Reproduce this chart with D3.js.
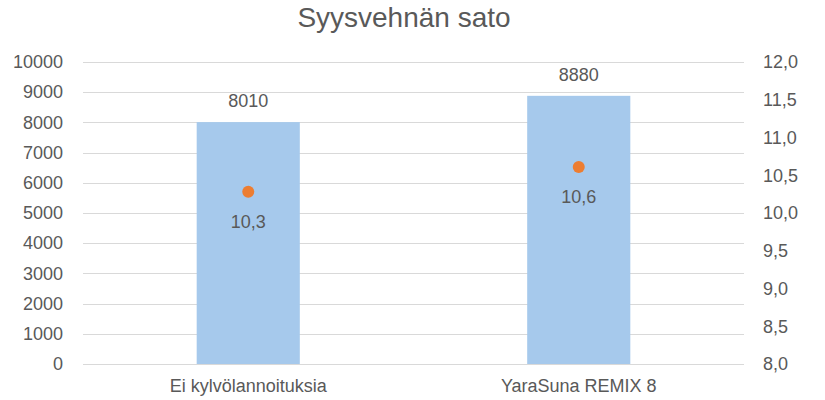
<!DOCTYPE html>
<html><head><meta charset="utf-8">
<script src="https://cdn.jsdelivr.net/npm/d3@7"></script>
<style>body{margin:0;background:#fff}svg{display:block}text{font-family:"Liberation Sans",Arial,sans-serif;fill:#595959}</style>
</head><body><svg id="c" width="825" height="400"></svg>
<script>
const title = "Syysvehnän sato";
const categories = ["Ei kylvölannoituksia", "YaraSuna REMIX 8"];
const yieldValues = [8010, 8880];
const pointValues = [10.28, 10.61];
const leftTicks = [0,1000,2000,3000,4000,5000,6000,7000,8000,9000,10000];
const rightTicks = [8.0,8.5,9.0,9.5,10.0,10.5,11.0,11.5,12.0];

const svg = d3.select("#c");
const L = 83, R = 744, T = 62, B = 364;
const x = d3.scaleBand().domain(categories).range([L, R]).padding(0);
const yL = d3.scaleLinear().domain([0, 10000]).range([B, T]);
const yR = d3.scaleLinear().domain([8, 12]).range([B, T]);
const fmtR = v => d3.format(".1f")(v).replace(".", ",");
const FS = "18px";

svg.append("text").attr("x", 404).attr("y", 27).attr("text-anchor", "middle")
  .style("font-size", "28px").text(title);

// gridlines
svg.append("g").selectAll("line").data(leftTicks).join("line")
  .attr("x1", L).attr("x2", R).attr("y1", d => Math.round(yL(d)) + 0.5).attr("y2", d => Math.round(yL(d)) + 0.5)
  .attr("stroke", "#D9D9D9").attr("stroke-width", 1);

// left axis
const gl = svg.append("g").attr("transform", `translate(${L},0)`)
  .call(d3.axisLeft(yL).tickValues(leftTicks).tickSize(0).tickPadding(20).tickFormat(d3.format("d")));
gl.select(".domain").remove();
gl.selectAll("text").style("font-size", FS).attr("fill", "#595959");

// right axis
const gr = svg.append("g").attr("transform", `translate(${R},0)`)
  .call(d3.axisRight(yR).tickValues(rightTicks).tickSize(0).tickPadding(19).tickFormat(fmtR));
gr.select(".domain").remove();
gr.selectAll("text").style("font-size", FS).attr("fill", "#595959");

// bars
const bw = x.bandwidth() * 0.312;
svg.append("g").selectAll("rect").data(yieldValues).join("rect")
  .attr("x", (d, i) => x(categories[i]) + x.bandwidth() / 2 - bw / 2)
  .attr("width", bw)
  .attr("y", d => yL(d)).attr("height", d => yL(0) - yL(d))
  .attr("fill", "#A6C9EC");

// bottom axis line
svg.append("line").attr("x1", L).attr("x2", R).attr("y1", B + 0.5).attr("y2", B + 0.5)
  .attr("stroke", "#D9D9D9");

// bar labels
svg.append("g").selectAll("text").data(yieldValues).join("text")
  .attr("x", (d, i) => x(categories[i]) + x.bandwidth() / 2)
  .attr("y", d => yL(d) - 15).attr("text-anchor", "middle")
  .style("font-size", FS).text(d => d);

// points
svg.append("g").selectAll("circle").data(pointValues).join("circle")
  .attr("cx", (d, i) => x(categories[i]) + x.bandwidth() / 2)
  .attr("cy", d => yR(d)).attr("r", 6).attr("fill", "#ED7D31");

svg.append("g").selectAll("text").data(pointValues).join("text")
  .attr("x", (d, i) => x(categories[i]) + x.bandwidth() / 2)
  .attr("y", d => yR(d) + 36).attr("text-anchor", "middle")
  .style("font-size", FS).text(d => fmtR(d));

// category labels
svg.append("g").selectAll("text").data(categories).join("text")
  .attr("x", d => x(d) + x.bandwidth() / 2).attr("y", 392).attr("text-anchor", "middle")
  .style("font-size", FS).text(d => d);
</script></body></html>
